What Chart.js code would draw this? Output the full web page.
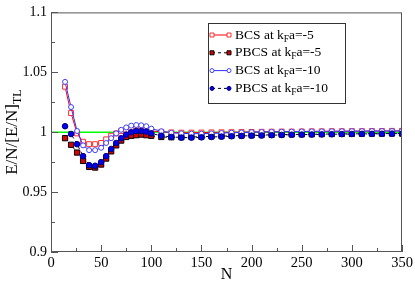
<!DOCTYPE html>
<html>
<head>
<meta charset="utf-8">
<script src="https://cdn.jsdelivr.net/npm/chart.js@4.4.0/dist/chart.umd.min.js"></script>
<style>
  html, body { margin: 0; padding: 0; background: #fff; }
</style>
</head>
<body>
<canvas id="chart" width="415" height="282"></canvas>
<script>
// Particle numbers N (x values)
const nValues = [14, 20, 26, 32, 38, 44, 50, 55, 60, 65, 70, 75, 80, 85, 90, 95, 100,
  110, 120, 130, 140, 150, 160, 170, 180, 190, 200, 210, 220, 230, 240, 250,
  260, 270, 280, 290, 300, 310, 320, 330, 340, 350];

// E/N / [E/N]_TL
const bcs5 = [1.038, 1.016, 0.999, 0.992, 0.990, 0.990, 0.991, 0.994, 0.997, 0.999, 1.001, 1.002, 1.003, 1.003, 1.003, 1.002, 1.001,
  1.0003, 0.9998, 0.9996, 0.9996, 0.9997, 0.9998, 0.9999, 1.0000, 1.0001, 1.0002, 1.0003, 1.0004, 1.0005, 1.0005,
  1.0006, 1.0007, 1.0007, 1.0008, 1.0008, 1.0009, 1.0009, 1.0010, 1.0010, 1.0011, 1.0011];
const pbcs5 = [0.995, 0.9895, 0.983, 0.976, 0.971, 0.9705, 0.973, 0.978, 0.984, 0.989, 0.993, 0.996, 0.997, 0.9975, 0.998, 0.9975, 0.997,
  0.996, 0.9958, 0.9958, 0.996, 0.9962, 0.9965, 0.9967, 0.997, 0.9972, 0.9974, 0.9976, 0.9978, 0.998, 0.9981,
  0.9982, 0.9983, 0.9984, 0.9985, 0.9986, 0.9986, 0.9987, 0.9988, 0.9988, 0.9989, 0.9989];
const bcs10 = [1.042, 1.021, 1.001, 0.989, 0.985, 0.985, 0.987, 0.991, 0.995, 0.999, 1.002, 1.004, 1.0055, 1.006, 1.0058, 1.005, 1.003,
  1.0008, 0.9995, 0.999, 0.9988, 0.9988, 0.999, 0.9993, 0.9996, 0.9998, 1.0, 1.0002, 1.0003, 1.0004, 1.0005,
  1.0006, 1.0007, 1.0007, 1.0008, 1.0008, 1.0009, 1.0009, 1.001, 1.001, 1.001, 1.0011];
const pbcs10 = [1.005, 0.9985, 0.990, 0.980, 0.9725, 0.972, 0.975, 0.980, 0.986, 0.991, 0.995, 0.998, 1.000, 1.001, 1.001, 1.0005, 0.999,
  0.997, 0.996, 0.9955, 0.9955, 0.9957, 0.996, 0.9963, 0.9966, 0.9969, 0.9971, 0.9973, 0.9975, 0.9977, 0.9979,
  0.998, 0.9981, 0.9982, 0.9983, 0.9984, 0.9985, 0.9986, 0.9986, 0.9987, 0.9988, 0.9988];

// thermodynamic limit reference line
const refLineX = [0, 350];
const refLineY = [1, 1];

const xTickValues = [0, 50, 100, 150, 200, 250, 300, 350];
const yTickValues = [0.9, 0.95, 1, 1.05, 1.1];
const yTickLabels = ["0.9", "0.95", "1", "1.05", "1.1"];

const seriesLabels = ["BCS at k|F|a=-5", "PBCS at k|F|a=-5", "BCS at k|F|a=-10", "PBCS at k|F|a=-10"];

const SERIF = '"Liberation Serif", "DejaVu Serif", serif';

function toPoints(xs, ys) {
  return xs.map((x, i) => ({ x: x, y: ys[i] }));
}

// draw "text|sub|text" with a subscript part
function drawSubText(ctx, str, x, y, size) {
  const parts = str.split("|");
  let cx = x;
  parts.forEach((p, i) => {
    const isSub = i % 2 === 1;
    ctx.font = (isSub ? size * 0.7 : size) + "px " + SERIF;
    ctx.fillText(p, cx, isSub ? y + size * 0.3 : y);
    cx += ctx.measureText(p).width;
  });
}
function measureSubText(ctx, str, size) {
  let w = 0;
  str.split("|").forEach((p, i) => {
    ctx.font = (i % 2 === 1 ? size * 0.7 : size) + "px " + SERIF;
    w += ctx.measureText(p).width;
  });
  return w;
}

const bcs5Set = {
  data: toPoints(nValues, bcs5), showLine: true,
  borderColor: "#ff0000", borderWidth: 1,
  pointStyle: "rect", pointRadius: 3.5, pointBorderWidth: 1,
  pointBorderColor: "#ff3030", pointBackgroundColor: "#ffffff"
};
const pbcs5Set = {
  data: toPoints(nValues, pbcs5), showLine: true,
  borderColor: "#000000", borderWidth: 1, borderDash: [3, 3],
  pointStyle: "rect", pointRadius: 3.7, pointBorderWidth: 1,
  pointBorderColor: "#000000", pointBackgroundColor: "#dd0000"
};
const bcs10Set = {
  data: toPoints(nValues, bcs10), showLine: true,
  borderColor: "#3030ff", borderWidth: 1,
  pointStyle: "circle", pointRadius: 2.5, pointBorderWidth: 1,
  pointBorderColor: "#4040ff", pointBackgroundColor: "#ffffff"
};
const pbcs10Set = {
  data: toPoints(nValues, pbcs10), showLine: true,
  borderColor: "#000000", borderWidth: 1, borderDash: [3, 3],
  pointStyle: "circle", pointRadius: 2.8, pointBorderWidth: 1,
  pointBorderColor: "#000080", pointBackgroundColor: "#0000ee"
};
const refSet = {
  data: toPoints(refLineX, refLineY), showLine: true,
  borderColor: "#00ff00", borderWidth: 1.5, pointRadius: 0
};

const legendSets = [bcs5Set, pbcs5Set, bcs10Set, pbcs10Set];

// frame, inward ticks, legend box and axis titles (xmgrace look)
const decorPlugin = {
  id: "decor",
  afterDraw(chart) {
    const ctx = chart.ctx;
    const a = chart.chartArea;
    const xs = chart.scales.x, ys = chart.scales.y;
    ctx.save();

    ctx.strokeStyle = "#555";
    ctx.lineWidth = 1;
    ctx.setLineDash([]);
    ctx.strokeRect(a.left + 0.5, a.top + 0.5, a.right - a.left - 1, a.bottom - a.top - 1);

    ctx.beginPath();
    for (let v = 0; v <= 350; v += 25) {
      const px = Math.round(xs.getPixelForValue(v)) + 0.5;
      const len = v % 50 === 0 ? 7 : 4;
      ctx.moveTo(px, a.bottom);
      ctx.lineTo(px, a.bottom - len);
    }
    for (let k = 0; k <= 8; k++) {
      const v = 0.9 + k * 0.025;
      const py = Math.round(ys.getPixelForValue(v)) + 0.5;
      const len = k % 2 === 0 ? 7 : 4;
      ctx.moveTo(a.left, py);
      ctx.lineTo(a.left + len, py);
    }
    ctx.stroke();

    // legend
    const bx = 208, by = 23, bw = 137, bh = 80;
    ctx.fillStyle = "#fff";
    ctx.fillRect(bx, by, bw, bh);
    ctx.strokeStyle = "#333";
    ctx.strokeRect(bx + 0.5, by + 0.5, bw, bh);
    legendSets.forEach((ds, i) => {
      const cy = by + 12 + i * 17.8;
      const x1 = 212, x2 = 229;
      ctx.strokeStyle = ds.borderColor;
      ctx.lineWidth = 1;
      ctx.setLineDash(ds.borderDash || []);
      ctx.beginPath();
      ctx.moveTo(x1, cy);
      ctx.lineTo(x2, cy);
      ctx.stroke();
      ctx.setLineDash([]);
      [x1, x2].forEach(px => {
        ctx.fillStyle = ds.pointBackgroundColor;
        ctx.strokeStyle = ds.pointBorderColor;
        ctx.beginPath();
        if (ds.pointStyle === "rect") {
          ctx.rect(px - 2, cy - 2, 4, 4);
        } else {
          ctx.arc(px, cy, 2, 0, Math.PI * 2);
        }
        ctx.fill();
        ctx.stroke();
      });
      ctx.fillStyle = "#000";
      ctx.textBaseline = "middle";
      ctx.textAlign = "left";
      drawSubText(ctx, seriesLabels[i], 235, cy, 13.5);
    });

    // x title
    ctx.fillStyle = "#000";
    ctx.font = "16px " + SERIF;
    ctx.textAlign = "center";
    ctx.textBaseline = "middle";
    ctx.fillText("N", (a.left + a.right) / 2, 275);

    // y title
    const title = "E/N/[E/N]|TL";
    ctx.textAlign = "left";
    ctx.translate(13, (a.top + a.bottom) / 2);
    ctx.rotate(-Math.PI / 2);
    const w = measureSubText(ctx, title, 17);
    drawSubText(ctx, title, -w / 2, 0, 17);

    ctx.restore();
  }
};

new Chart(document.getElementById("chart"), {
  type: "scatter",
  data: { datasets: [pbcs10Set, bcs10Set, pbcs5Set, bcs5Set, refSet] },
  options: {
    responsive: false,
    animation: false,
    devicePixelRatio: 1,
    layout: { padding: { top: 5, right: 13, left: 0, bottom: 0 } },
    plugins: { legend: { display: false }, tooltip: { enabled: false } },
    scales: {
      x: {
        type: "linear", min: 0, max: 350,
        afterBuildTicks: s => { s.ticks = xTickValues.map(v => ({ value: v })); },
        afterFit: s => { s.height = 30; },
        grid: { display: false, drawTicks: false },
        border: { display: false },
        ticks: { color: "#000", padding: 2, font: { family: SERIF, size: 14.5 }, maxRotation: 0 },
        title: { display: false }
      },
      y: {
        type: "linear", min: 0.9, max: 1.1,
        afterBuildTicks: s => { s.ticks = yTickValues.map(v => ({ value: v })); },
        afterFit: s => { s.width = 51; },
        grid: { display: false, drawTicks: false },
        border: { display: false },
        ticks: {
          color: "#000", padding: 4, font: { family: SERIF, size: 14 },
          callback: (v, i) => yTickLabels[i]
        }
      }
    }
  },
  plugins: [decorPlugin]
});
</script>
</body>
</html>
